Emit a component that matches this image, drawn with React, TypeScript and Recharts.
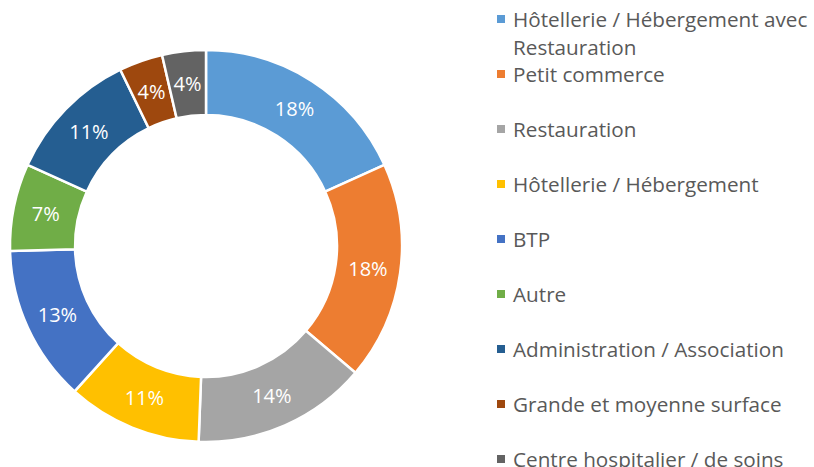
import { PieChart, Pie, Cell, Legend } from "recharts";

const categories = [
  "Hôtellerie / Hébergement avec Restauration",
  "Petit commerce",
  "Restauration",
  "Hôtellerie / Hébergement",
  "BTP",
  "Autre",
  "Administration / Association",
  "Grande et moyenne surface",
  "Centre hospitalier / de soins",
];

const shares = [18.2, 18.0, 14.4, 11.1, 12.9, 7.2, 11.0, 3.6, 3.6];

const colors = [
  "#5B9BD5",
  "#ED7D31",
  "#A5A5A5",
  "#FFC000",
  "#4472C4",
  "#70AD47",
  "#255E91",
  "#9E480E",
  "#636363",
];

const data = categories.map((name, i) => ({ name, value: shares[i] }));

const FONT = "'Open Sans', sans-serif";
const RAD = Math.PI / 180;

function renderLabel({ cx, cy, midAngle, innerRadius, outerRadius, percent }: any) {
  const r = (innerRadius + outerRadius) / 2;
  const x = cx + r * Math.cos(-midAngle * RAD);
  const y = cy + r * Math.sin(-midAngle * RAD);
  return (
    <text
      x={x}
      y={y}
      fill="#fff"
      textAnchor="middle"
      dominantBaseline="central"
      style={{ fontFamily: FONT, fontSize: 20 }}
    >
      {`${Math.round(percent * 100)}%`}
    </text>
  );
}

function LegendList() {
  return (
    <div style={{ fontFamily: FONT, fontSize: 20.7, color: "#595959" }}>
      {categories.map((c, i) => (
        <div
          key={c}
          style={{ position: "relative", height: 55, paddingLeft: 16, width: 304 }}
        >
          <span
            style={{
              position: "absolute",
              left: 0,
              top: 9,
              width: 8,
              height: 8,
              background: colors[i],
            }}
          />
          <div style={{ lineHeight: "27.5px", whiteSpace: "normal" }}>{c}</div>
        </div>
      ))}
    </div>
  );
}

export default function App() {
  return (
    <div style={{ position: "absolute", left: 0, top: 0, width: 814, height: 467, background: "#fff", overflow: "hidden" }}>
      <PieChart width={814} height={467}>
        <Pie
          data={data}
          dataKey="value"
          nameKey="name"
          cx={201}
          cy={241}
          innerRadius={131}
          outerRadius={196}
          startAngle={90}
          endAngle={-270}
          stroke="#fff"
          strokeWidth={2.5}
          label={renderLabel}
          labelLine={false}
          isAnimationActive={false}
        >
          {data.map((d, i) => (
            <Cell key={d.name} fill={colors[i]} />
          ))}
        </Pie>
        <Legend
          content={() => <LegendList />}
          wrapperStyle={{ position: "absolute", left: 497, top: 6, width: 320 }}
        />
      </PieChart>
    </div>
  );
}
